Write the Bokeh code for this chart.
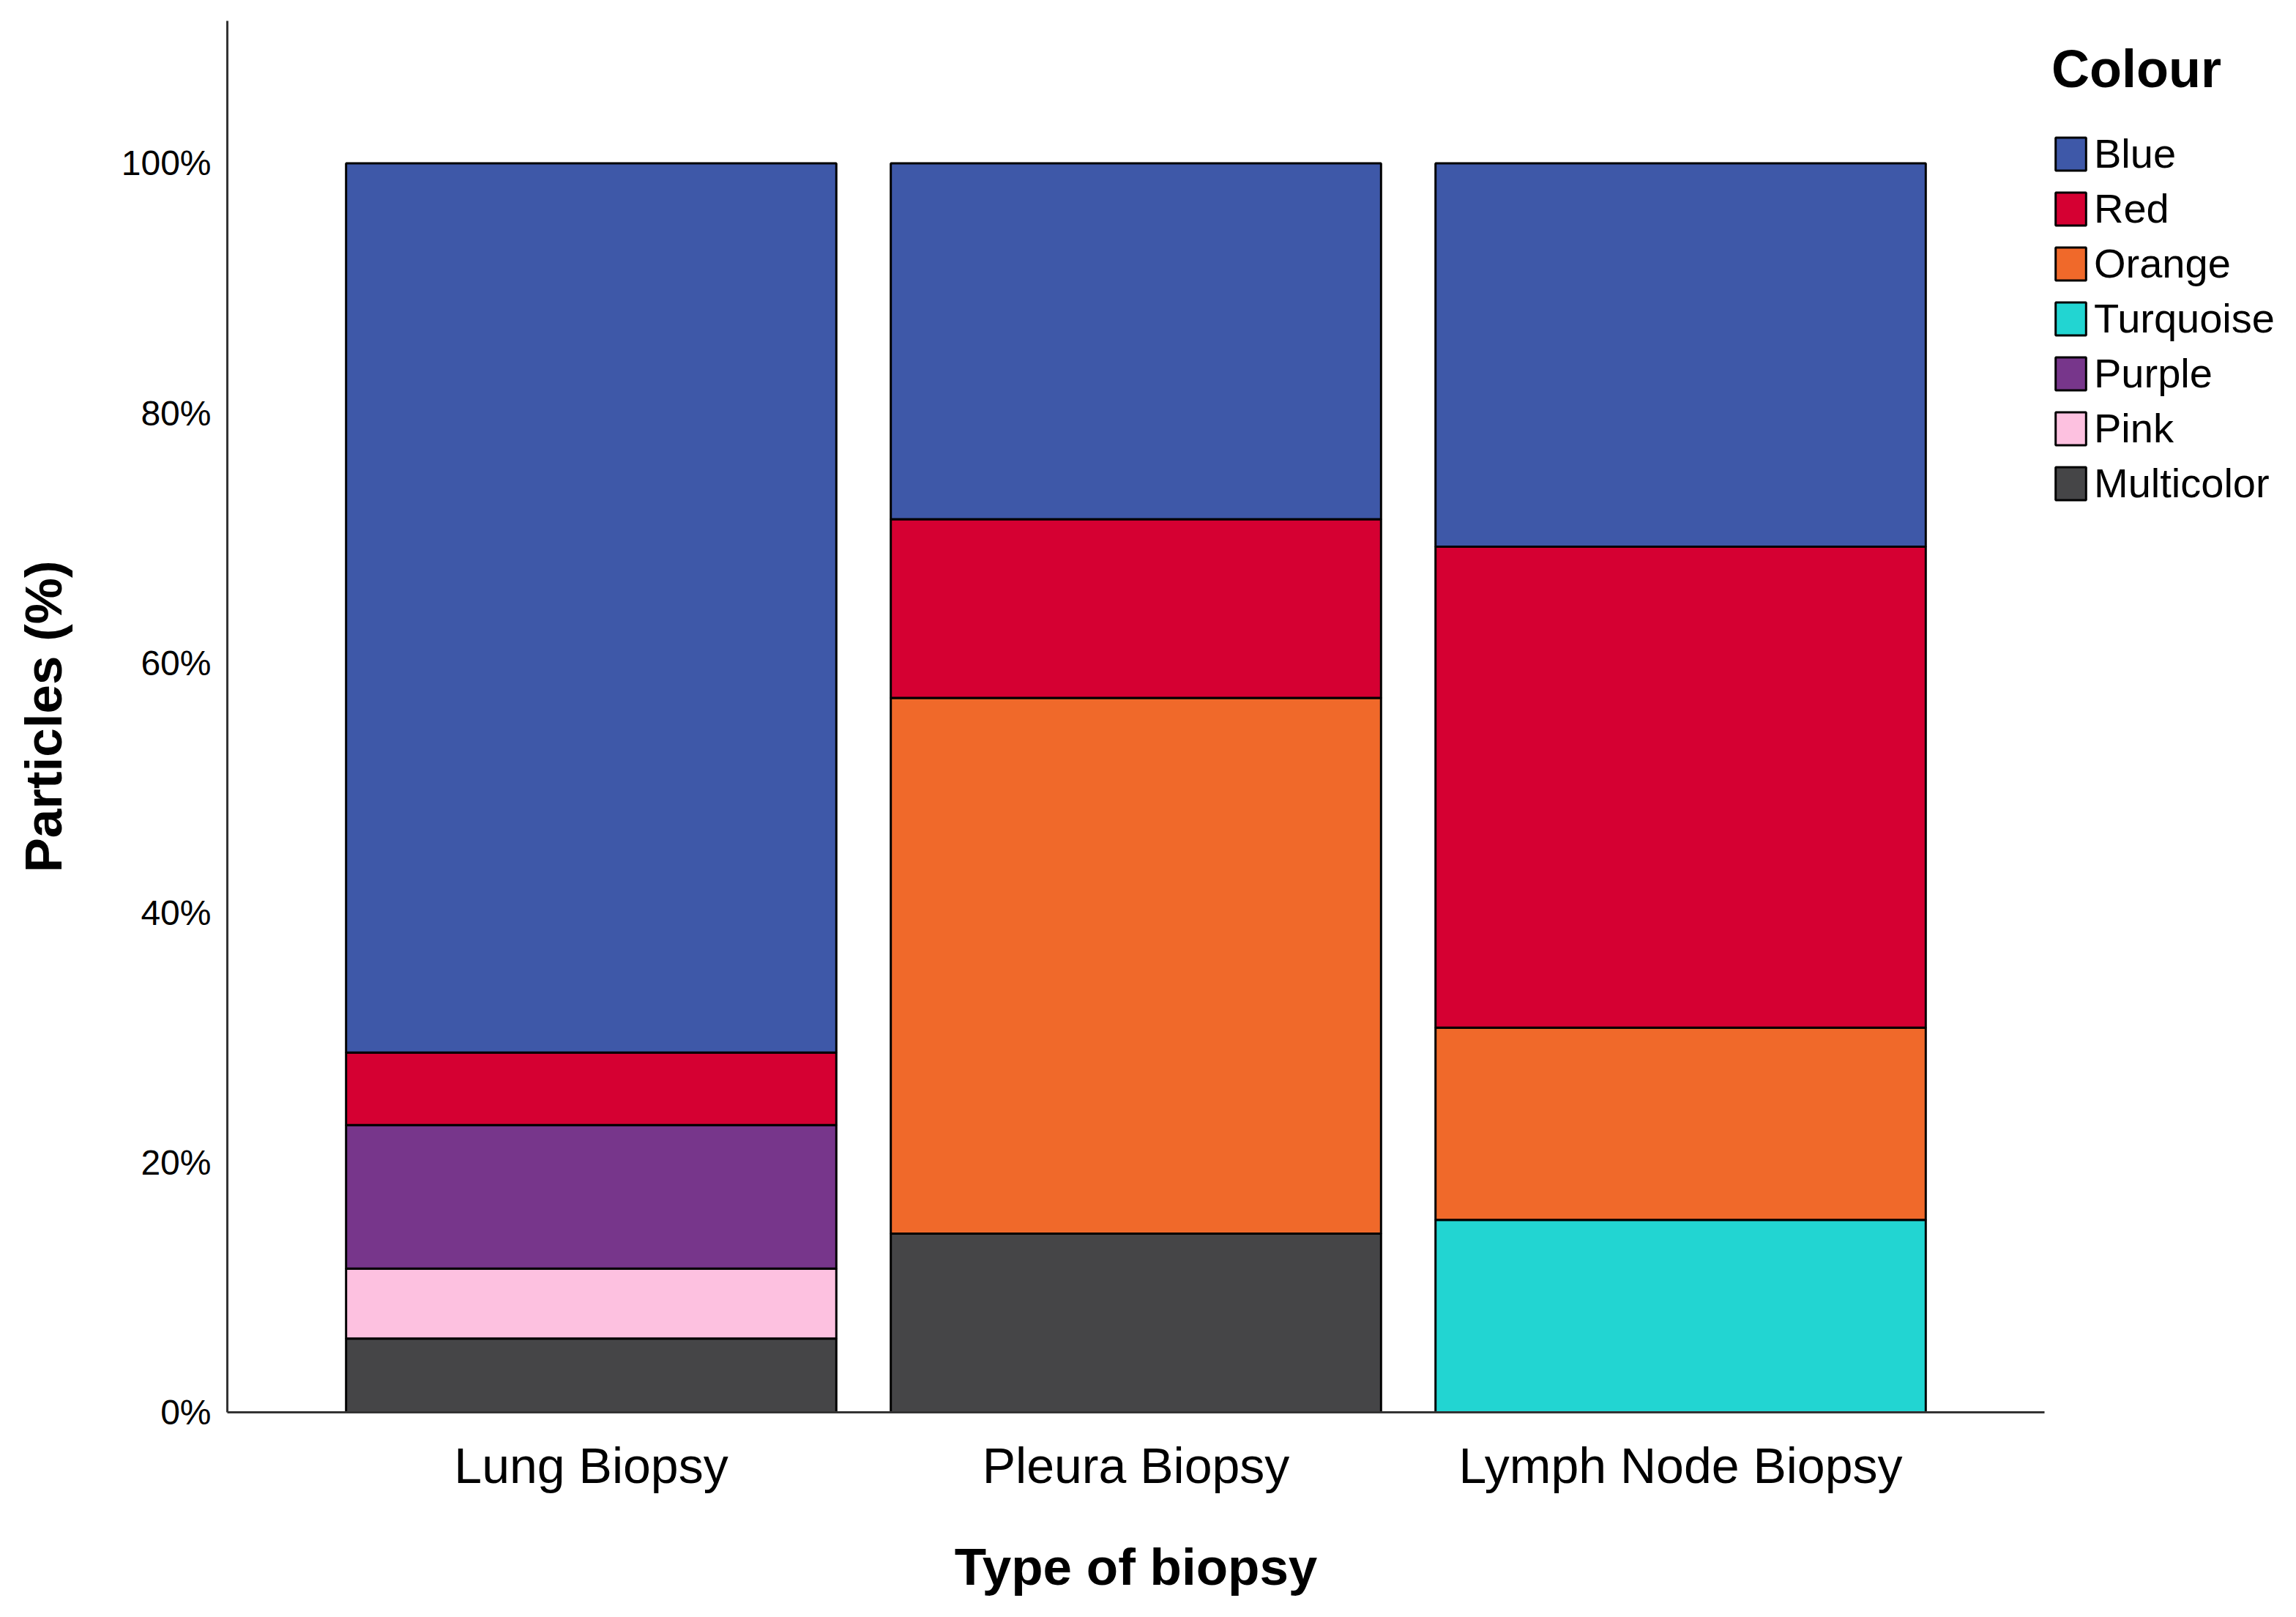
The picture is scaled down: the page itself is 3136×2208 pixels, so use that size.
from bokeh.plotting import figure
from bokeh.models import ColumnDataSource, FactorRange, Legend, LegendItem, FixedTicker
from bokeh.embed import file_html
from bokeh.resources import INLINE

biopsies = ['Lung Biopsy', 'Pleura Biopsy', 'Lymph Node Biopsy']

# colours stacked from the bottom up
colours = ['Multicolor', 'Pink', 'Purple', 'Turquoise', 'Orange', 'Red', 'Blue']
multicolor = [5.9, 14.3, 0]
pink = [5.6, 0, 0]
purple = [11.5, 0, 0]
turquoise = [0, 0, 15.4]
orange = [0, 42.9, 15.4]
red = [5.8, 14.3, 38.5]
blue = [71.2, 28.5, 30.7]

palette = ['#454547', '#FDC1E0', '#77368B', '#22D5D2', '#F0692A', '#D50032', '#3E58A8']

y_ticks = [0, 20, 40, 60, 80, 100]
y_tick_labels = ['0%', '20%', '40%', '60%', '80%', '100%']

source = ColumnDataSource(data=dict(
	biopsy=biopsies, Multicolor=multicolor, Pink=pink, Purple=purple,
	Turquoise=turquoise, Orange=orange, Red=red, Blue=blue))

p = figure(x_range=FactorRange(*biopsies, range_padding=0.112), y_range=(0, 111.4),
	frame_width=2482, frame_height=1900, output_backend="svg", toolbar_location=None,
	min_border_left=310, min_border_top=28, min_border_bottom=200, min_border_right=0)

bars = p.vbar_stack(colours, x='biopsy', width=0.9, source=source, color=palette,
	line_color='black', line_width=3)

p.outline_line_color = None
p.grid.grid_line_color = None

for ax in (p.xaxis, p.yaxis):
	ax.axis_line_color = '#333333'
	ax.axis_line_width = 3
	ax.major_tick_line_color = None
	ax.minor_tick_line_color = None
	ax.major_label_text_font = 'Liberation Sans'
	ax.axis_label_text_font = 'Liberation Sans'
	ax.axis_label_text_font_style = 'bold'
	ax.axis_label_text_font_size = '71px'
	ax.axis_label_text_color = 'black'
	ax.major_label_text_color = 'black'

p.yaxis.ticker = FixedTicker(ticks=y_ticks)
p.yaxis.major_label_overrides = dict(zip(y_ticks, y_tick_labels))
p.yaxis.major_label_text_font_size = '48px'
p.yaxis.major_label_standoff = 16
p.yaxis.axis_label = 'Particles (%)'
p.yaxis.axis_label_standoff = 64

p.xaxis.major_label_text_font_size = '68px'
p.xaxis.major_label_standoff = 28
p.xaxis.axis_label = 'Type of biopsy'
p.xaxis.axis_label_standoff = 58

# legend listed top of stack first
items = [LegendItem(label=c, renderers=[r]) for c, r in zip(colours[::-1], bars[::-1])]
legend = Legend(items=items, title='Colour', location=(10, 1236))
legend.title_text_font = 'Liberation Sans'
legend.title_text_font_style = 'bold'
legend.title_text_font_size = '72px'
legend.title_text_color = 'black'
legend.title_standoff = 42
legend.label_text_font = 'Liberation Sans'
legend.label_text_font_size = '56px'
legend.label_text_color = 'black'
legend.glyph_width = 52
legend.glyph_height = 56
legend.label_height = 56
legend.label_standoff = 6
legend.spacing = 10
legend.padding = 18
legend.margin = 0
legend.border_line_color = None
p.add_layout(legend, 'right')

open("out.html", "w").write(file_html(p, INLINE))
